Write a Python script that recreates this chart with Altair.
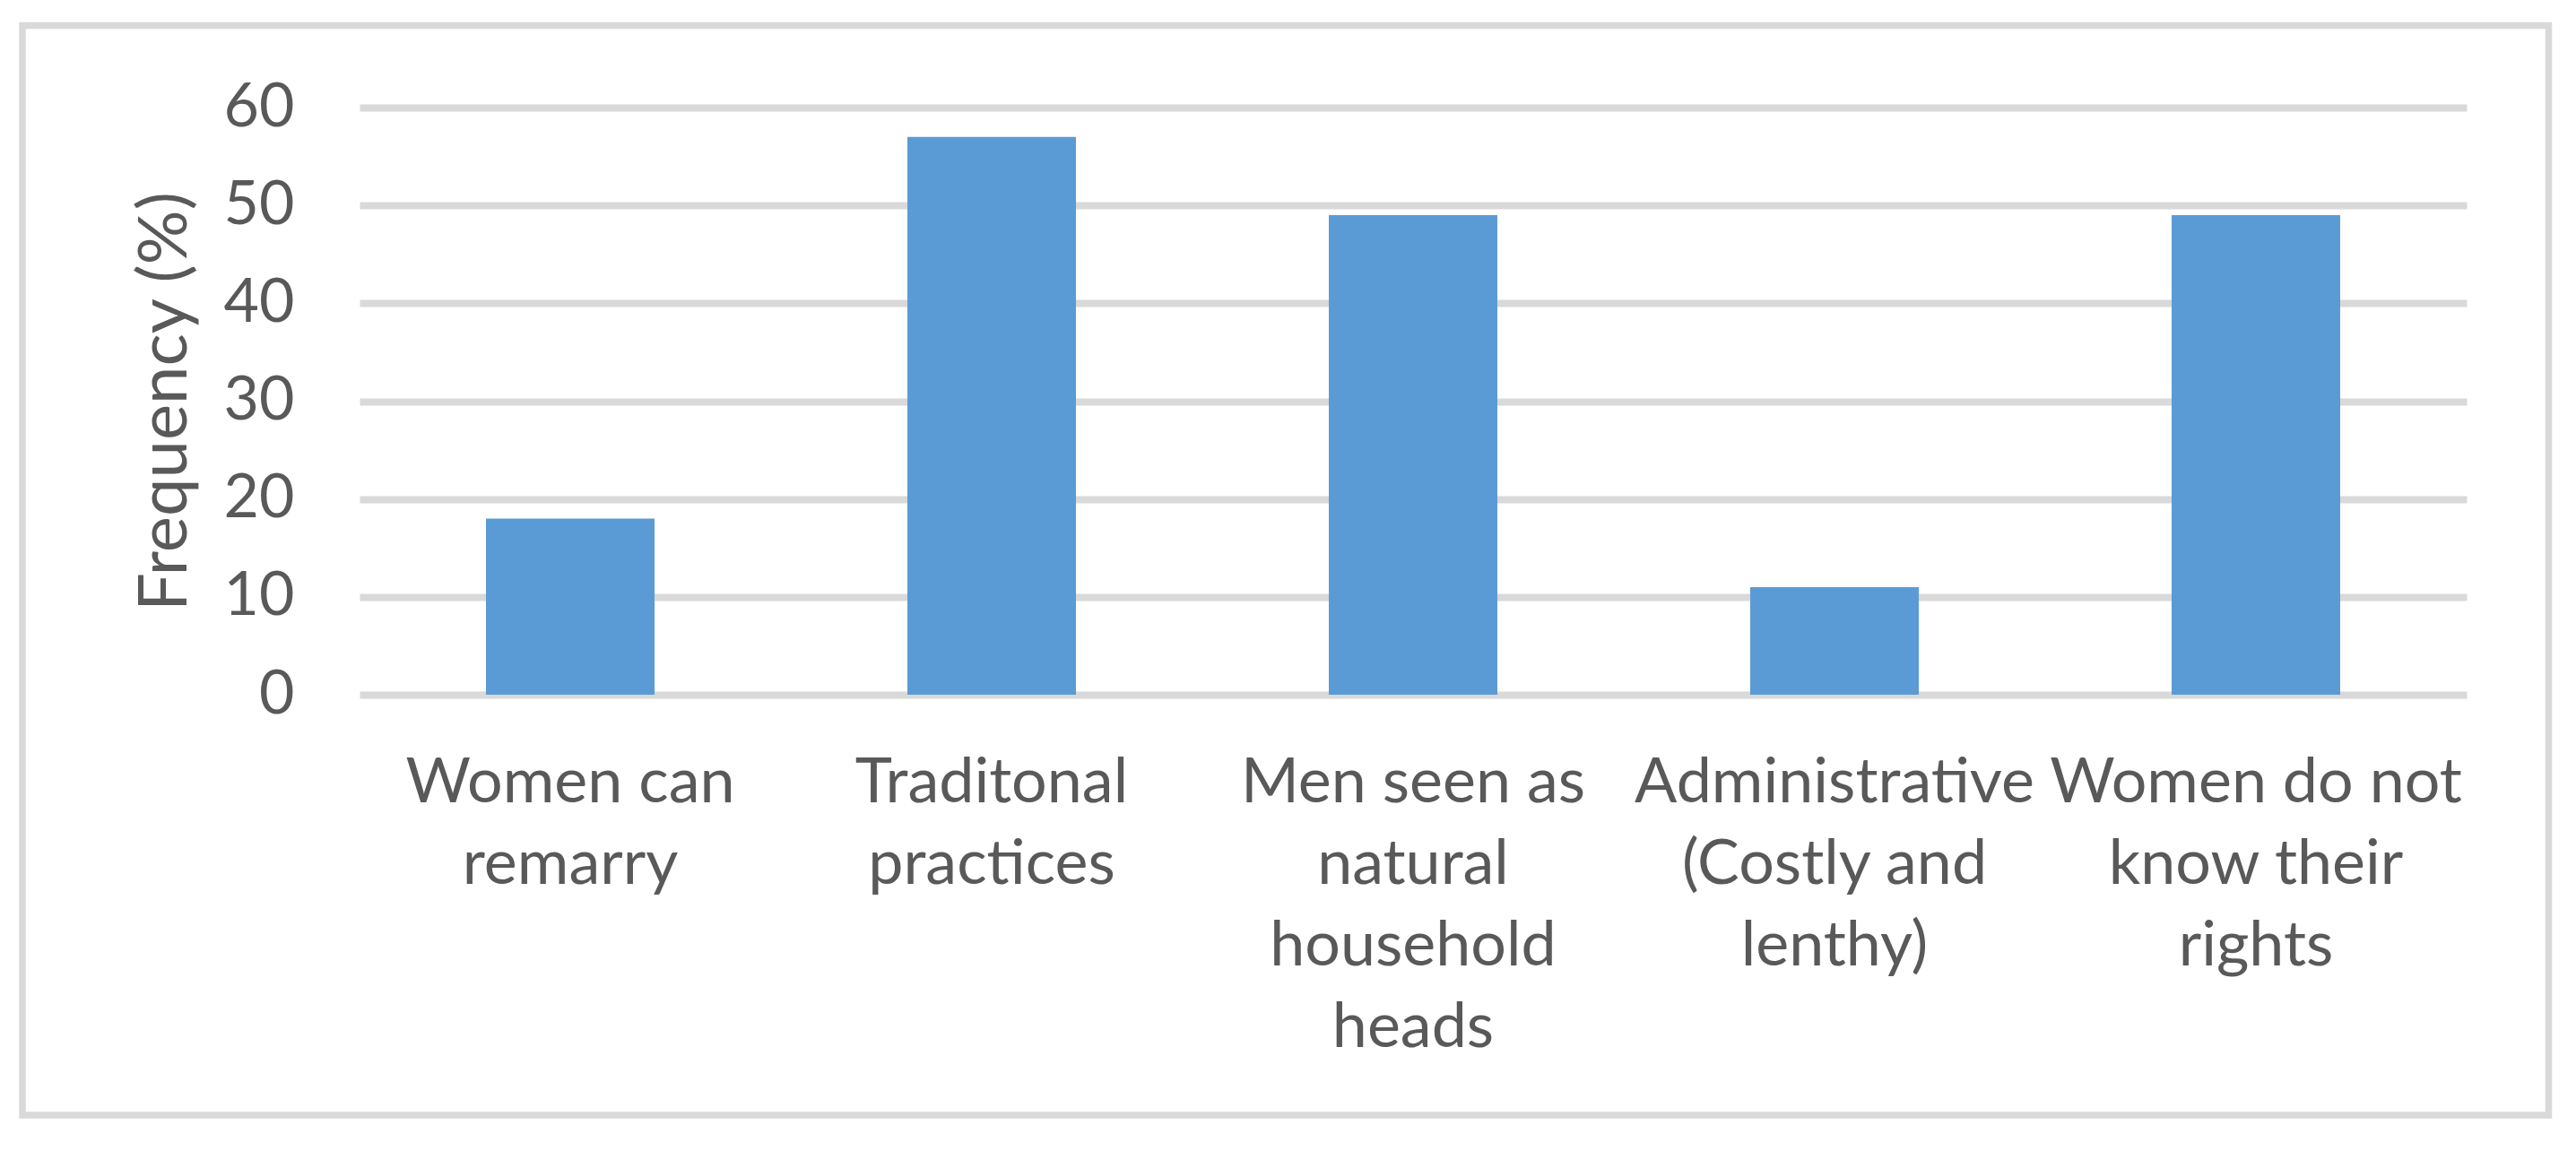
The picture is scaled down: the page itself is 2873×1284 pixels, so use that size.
import json
import altair as alt
import pandas as pd

# ---- data ----
categories = [
    "Women can remarry",
    "Traditonal practices",
    "Men seen as natural household heads",
    "Administrative (Costly and lenthy)",
    "Women do not know their rights",
]
label_lines = [
    ["Women can", "remarry"],
    ["Traditonal", "practices"],
    ["Men seen as", "natural", "household", "heads"],
    ["Administrative", "(Costly and", "lenthy)"],
    ["Women do not", "know their", "rights"],
]
frequency = [18, 57, 49, 11, 49]
y_ticks = [0, 10, 20, 30, 40, 50, 60]

df = pd.DataFrame({"category": categories, "frequency": frequency})

# multi-line labels
expr = "datum.label"
for cat, lines in reversed(list(zip(categories, label_lines))):
    expr = f"datum.label == {json.dumps(cat)} ? {json.dumps(lines)} : ({expr})"

FONT = "Lato"
TEXT = "#595959"
GRID = "#D9D9D9"
W, H = 2350, 655

bars = alt.Chart(df).mark_bar(color="#5B9BD5").encode(
    x=alt.X(
        "category:N",
        sort=None,
        scale=alt.Scale(paddingInner=0.6, paddingOuter=0.3),
        axis=alt.Axis(
            title=None,
            labelExpr=expr,
            labelFont=FONT,
            labelFontSize=70,
            labelColor=TEXT,
            labelLineHeight=91,
            labelPadding=64,
            labelAngle=0,
            labelLimit=2000,
            labelOverlap=False,
            ticks=False,
            domain=False,
            grid=False,
        ),
    ),
    y=alt.Y(
        "frequency:Q",
        scale=alt.Scale(domain=[0, 60], nice=False),
        axis=alt.Axis(
            title="Frequency (%)",
            values=y_ticks,
            labelFont=FONT,
            labelFontSize=68,
            labelColor=TEXT,
            labelPadding=73,
            ticks=False,
            domain=False,
            grid=True,
            gridColor=GRID,
            gridWidth=8,
            titleFont=FONT,
            titleFontSize=76,
            titleFontWeight="normal",
            titleColor=TEXT,
            titleAngle=270,
            titleBaseline="alphabetic",
            titleAlign="center",
            titleX=-194,
            titleY=H / 2,
        ),
    ),
)

border = alt.Chart(pd.DataFrame({"b": [0]})).mark_rect(
    fillOpacity=0, stroke=GRID, strokeWidth=7.5
).encode(
    x=alt.value(-376), x2=alt.value(2441.5), y=alt.value(-91.5), y2=alt.value(1124)
)

chart = alt.layer(bars, border).properties(
    width=W,
    height=H,
    padding={"left": 393, "top": 112, "right": 105, "bottom": 485},
    autosize=alt.AutoSizeParams(type="none"),
    background="white",
).configure_view(stroke=None)

chart.save("out.html", embed_options={"renderer": "svg", "actions": False})
